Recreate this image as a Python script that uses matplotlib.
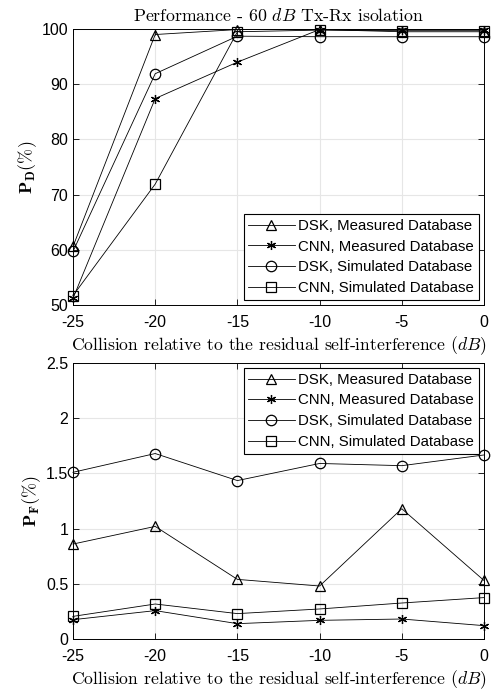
import numpy as np
import matplotlib
matplotlib.use("Agg")
import matplotlib.pyplot as plt

x = [-25, -20, -15, -10, -5, 0]
labels = ['DSK, Measured Database', 'CNN, Measured Database',
          'DSK, Simulated Database', 'CNN, Simulated Database']
markers = ['^', (6, 2, 0), 'o', 's']

pd_dsk_meas = [60.6, 99.0, 99.9, 99.9, 99.5, 99.5]
pd_cnn_meas = [51.2, 87.4, 94.0, 99.9, 99.9, 99.9]
pd_dsk_sim = [59.7, 91.9, 98.7, 98.6, 98.6, 98.6]
pd_cnn_sim = [51.7, 71.9, 99.5, 99.8, 99.7, 99.7]

pf_dsk_meas = [0.86, 1.02, 0.54, 0.48, 1.18, 0.53]
pf_cnn_meas = [0.175, 0.257, 0.139, 0.169, 0.181, 0.121]
pf_dsk_sim = [1.51, 1.68, 1.435, 1.59, 1.57, 1.667]
pf_cnn_sim = [0.205, 0.317, 0.23, 0.272, 0.326, 0.375]

plt.rcParams['font.family'] = ['Liberation Sans', 'DejaVu Sans']
plt.rcParams['mathtext.fontset'] = 'cm'
serif = 'cmr10'

fig = plt.figure(figsize=(4.95, 6.89), dpi=100)
ax1 = fig.add_axes([73/495, 1 - 305/689, 411/495, 276/689])
ax2 = fig.add_axes([73/495, 1 - 639/689, 411/495, 276/689])

xlabel = r'Collision relative to the residual self-interference ($dB$)'

for ax, series, ylim, yticks, ylab, loc in [
        (ax1, [pd_dsk_meas, pd_cnn_meas, pd_dsk_sim, pd_cnn_sim], (50, 100),
         np.arange(50, 101, 10), r'$\mathbf{P}_\mathbf{D}(\%)$', 'lower right'),
        (ax2, [pf_dsk_meas, pf_cnn_meas, pf_dsk_sim, pf_cnn_sim], (0, 2.5),
         [0, 0.5, 1, 1.5, 2, 2.5], r'$\mathbf{P}_\mathbf{F}(\%)$', 'upper right')]:
    for y, m, lab in zip(series, markers, labels):
        ms = 6.5 if m == markers[1] else 7.5
        ax.plot(x, y, color='black', lw=0.6, marker=m, ms=ms,
                mfc='none', mec='black', mew=0.9, clip_on=False,
                label=lab)
    ax.set_xlim(-25, 0)
    ax.set_ylim(*ylim)
    ax.set_xticks(x)
    ax.set_yticks(yticks)
    ax.set_yticklabels([('%g' % v) for v in yticks])
    ax.set_xticklabels([str(v) for v in x])
    ax.tick_params(direction='in', top=True, right=True, labelsize=11.5,
                   length=4, width=0.6)
    ax.tick_params(axis='x', pad=7)
    ax.grid(True, color='#e6e6e6', lw=0.8)
    ax.set_axisbelow(True)
    for s in ax.spines.values():
        s.set_linewidth(0.7)
    ax.set_xlabel(xlabel, fontsize=12.7, family=serif, labelpad=3)
    ax.set_ylabel(ylab, fontsize=13, labelpad=2)
    leg = ax.legend(loc=loc, fontsize=10.8, frameon=True, fancybox=False,
                    edgecolor='black', framealpha=1, borderaxespad=0.35,
                    handlelength=3.1, labelspacing=0.45, borderpad=0.3,
                    handletextpad=0.25)
    leg.get_frame().set_linewidth(0.8)

ax1.set_title(r'Performance - 60 $dB$ Tx-Rx isolation', fontsize=12.8,
              family=serif, pad=6)

fig.savefig('out.png', dpi=100)
